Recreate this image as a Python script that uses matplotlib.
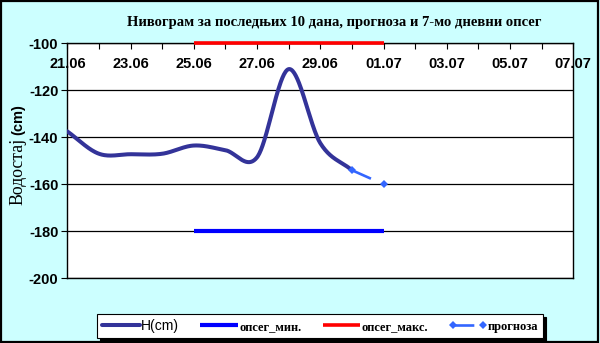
import datetime as dt
import numpy as np
import matplotlib
matplotlib.use("Agg")
import matplotlib.pyplot as plt
import matplotlib.dates as mdates
from matplotlib.patches import Rectangle
from matplotlib.legend_handler import HandlerLine2D

plt.rcParams["lines.scale_dashes"] = False
plt.rcParams["axes.unicode_minus"] = False

# --- data -------------------------------------------------------------
year = 2011
h_dates = ["21.06", "22.06", "23.06", "24.06", "25.06",
           "26.06", "27.06", "28.06", "29.06", "30.06"]
h_values = [-137.5, -147.0, -147.2, -147.0, -143.5,
            -145.5, -148.5, -111.0, -142.5, -154.0]

forecast_dates = ["30.06", "01.07"]
forecast_values = [-154.0, -160.0]

range_dates = ["25.06", "01.07"]
range_min = [-180.0, -180.0]
range_max = [-100.0, -100.0]

x_start, x_end = "21.06", "07.07"
y_ticks = [-200, -180, -160, -140, -120, -100]

title = "Нивограм за последњих 10 дана, прогноза и 7-мо дневни опсег"
labels = ["H(cm)", "опсег_мин.", "опсег_макс.", "прогноза"]


def to_date(s):
    return dt.datetime.strptime(f"{s}.{year}", "%d.%m.%Y")


def smooth(xs, ys, n=40):
    """Cubic Hermite (Catmull-Rom) smoothing through the points."""
    xs = np.asarray(xs, float)
    ys = np.asarray(ys, float)
    m = np.empty_like(ys)
    m[1:-1] = (ys[2:] - ys[:-2]) / (xs[2:] - xs[:-2])
    m[0] = (ys[1] - ys[0]) / (xs[1] - xs[0])
    m[-1] = (ys[-1] - ys[-2]) / (xs[-1] - xs[-2])
    ox, oy = [], []
    for i in range(len(xs) - 1):
        hseg = xs[i + 1] - xs[i]
        t = np.linspace(0, 1, n, endpoint=(i == len(xs) - 2))
        h00 = 2 * t**3 - 3 * t**2 + 1
        h10 = t**3 - 2 * t**2 + t
        h01 = -2 * t**3 + 3 * t**2
        h11 = t**3 - t**2
        oy.append(h00 * ys[i] + h10 * hseg * m[i] + h01 * ys[i + 1] + h11 * hseg * m[i + 1])
        ox.append(xs[i] + t * hseg)
    return np.concatenate(ox), np.concatenate(oy)


hx = mdates.date2num([to_date(d) for d in h_dates])
sx, sy = smooth(hx, h_values)
fx = mdates.date2num([to_date(d) for d in forecast_dates])
rx = mdates.date2num([to_date(d) for d in range_dates])

# --- figure -----------------------------------------------------------
fig = plt.figure(figsize=(6.0, 3.43), dpi=100, facecolor="#ccffff")
ax = fig.add_axes([0.1122, 0.1886, 0.9555 - 0.1122, 0.8738 - 0.1886])
ax.set_facecolor("white")

navy = "#333399"
l_h, = ax.plot(sx, sy, color=navy, lw=2.9, solid_capstyle="round", zorder=3)
l_min, = ax.plot(rx, range_min, color="#0000ff", lw=3.0, solid_capstyle="butt", zorder=3)
l_max, = ax.plot(rx, range_max, color="#ff0000", lw=2.6, solid_capstyle="butt",
                 zorder=6, clip_on=False)
l_fc, = ax.plot(fx, forecast_values, color="#3366ff", lw=1.9,
                linestyle=(0, (15, 30)), marker="D", markersize=4,
                markeredgewidth=0, zorder=4)

ax.set_xlim(mdates.date2num(to_date(x_start)), mdates.date2num(to_date(x_end)))
ax.set_ylim(y_ticks[0], y_ticks[-1])

# x axis runs along the top edge, labels sit just inside the plot
ax.xaxis.set_major_locator(mdates.DayLocator(interval=2))
ax.xaxis.set_minor_locator(mdates.DayLocator())
ax.xaxis.set_major_formatter(mdates.DateFormatter("%d.%m"))
ax.tick_params(axis="x", which="both", bottom=False, labelbottom=False,
               top=True, labeltop=True, direction="in", length=4, width=0.8,
               pad=-20, labelsize=10.5, colors="black")
for lab in ax.get_xticklabels():
    lab.set_fontfamily("Liberation Sans")
    lab.set_fontweight("bold")

ax.set_yticks(y_ticks)
ax.tick_params(axis="y", which="major", direction="out", length=4, width=0.8,
               pad=2.5, labelsize=10.5)
for lab in ax.get_yticklabels():
    lab.set_fontfamily("Liberation Sans")
    lab.set_fontweight("bold")

ax.grid(axis="y", color="black", lw=0.9)
ax.set_axisbelow(True)
for sp in ax.spines.values():
    sp.set_color("black")
    sp.set_linewidth(1.0)

# title and axis label
fig.text(0.557, 0.933, title, ha="center", va="center",
         family="Liberation Serif", weight="bold", fontsize=10.5)
fig.text(0.030, 0.499, "Водостај", rotation=90, ha="center", va="center",
         family="Liberation Serif", fontsize=12.8)
fig.text(0.030, 0.652, "(cm)", rotation=90, ha="center", va="center",
         family="Liberation Sans", weight="bold", fontsize=10.5)

# legend
leg = fig.legend([l_h, l_min, l_max, l_fc], labels, ncol=4,
                 loc="center", bbox_to_anchor=(0.534, 0.05),
                 frameon=True, fancybox=False, shadow={"color": "black", "alpha": 1.0},
                 edgecolor="black", framealpha=1.0,
                 prop={"family": "Liberation Serif", "weight": "bold", "size": 9},
                 handlelength=3.0, handletextpad=0.1, columnspacing=1.7,
                 borderpad=0.4, borderaxespad=0,
                 handler_map={l_fc: HandlerLine2D(numpoints=2)})
leg.get_texts()[0].set_fontfamily("Liberation Sans")
leg.get_texts()[0].set_fontweight("normal")
leg.get_texts()[0].set_fontsize(10)
leg.get_frame().set_linewidth(0.8)

# outer border of the chart
fig.patches.append(Rectangle((0.001, 0.002), 0.996, 0.995, transform=fig.transFigure,
                             fill=False, edgecolor="black", lw=1.6))

fig.savefig("out.png", dpi=100, facecolor=fig.get_facecolor())
